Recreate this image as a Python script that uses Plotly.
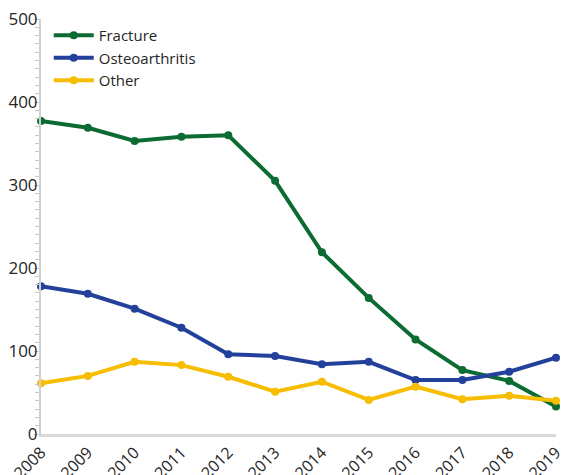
import plotly.graph_objects as go

years = [2008, 2009, 2010, 2011, 2012, 2013, 2014, 2015, 2016, 2017, 2018, 2019]
fracture = [377, 369, 353, 358, 360, 305, 219, 164, 114, 77, 64, 33]
osteoarthritis = [178, 169, 151, 128, 96, 94, 84, 87, 65, 65, 75, 92]
other = [61, 70, 87, 83, 69, 51, 63, 41, 57, 42, 46, 40]

series = [
    ("Fracture", fracture, "#0b6b32"),
    ("Osteoarthritis", osteoarthritis, "#23409a"),
    ("Other", other, "#f7bd00"),
]

fig = go.Figure()
for name, vals, color in series:
    fig.add_trace(go.Scatter(
        x=years, y=vals, name=name, mode="lines+markers",
        line=dict(color=color, width=4),
        marker=dict(color=color, size=8),
        cliponaxis=False,
    ))

fig.update_layout(
    width=561, height=475,
    margin=dict(l=41, r=5, t=19, b=41, autoexpand=False),
    paper_bgcolor="white", plot_bgcolor="white",
    font=dict(family="Open Sans, Noto Sans, sans-serif", size=16, color="#262626"),
    showlegend=True,
    legend=dict(x=0.015, y=1.0, xanchor="left", yanchor="top",
                bgcolor="rgba(0,0,0,0)", font=dict(size=15),
                tracegroupgap=0, itemwidth=40),
    xaxis=dict(
        range=[2008, 2019], tickmode="array", tickvals=years,
        ticktext=[str(y) for y in years], tickangle=-45,
        showgrid=False, zeroline=False, automargin=False,
        showline=True, linecolor="#d9d9d9", linewidth=3,
        ticks="", tickfont=dict(size=16), ticklabeloverflow="allow",
    ),
    yaxis=dict(
        range=[0, 500], tickvals=[0, 100, 200, 300, 400, 500],
        showgrid=False, zeroline=False, automargin=False,
        showline=True, linecolor="#d0d0d0", linewidth=2,
        ticks="outside", ticklen=5, tickcolor="#c8c8c8", tickwidth=1,
        minor=dict(dtick=10, ticks="outside", ticklen=4, tickcolor="#c8c8c8", tickwidth=1),
        tickfont=dict(size=17), ticklabelstandoff=-7,
    ),
)

fig.write_html("out.html", config={"displayModeBar": False},
               post_script="document.body.style.margin='0';document.body.style.overflow='hidden';")
